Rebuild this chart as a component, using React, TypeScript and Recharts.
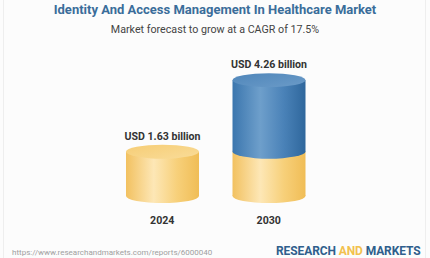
import React from 'react';
import { BarChart, Bar, XAxis, YAxis, LabelList } from 'recharts';

const years = ['2024', '2030'];
const baseValues = [1.63, 1.63];
const growthValues = [0, 2.63];
const totalLabels = ['USD 1.63 billion', 'USD 4.26 billion'];
const title = 'Identity And Access Management In Healthcare Market';
const subtitle = 'Market forecast to grow at a CAGR of 17.5%';
const url = 'https://www.researchandmarkets.com/reports/6000040';

const data = years.map((y, i) => ({
  year: y,
  base: baseValues[i],
  growth: growthValues[i],
  label: totalLabels[i],
}));

const RY = 7;

const GoldShape = (props: any) => {
  const { x, y, width, height, payload } = props;
  const cx = x + width / 2;
  const isTop = payload.growth === 0;
  return (
    <g>
      <ellipse cx={cx} cy={y + height} rx={width / 2} ry={RY} fill="url(#goldBody)" />
      <rect x={x} y={y} width={width} height={height} fill="url(#goldBody)" />
      {isTop && <ellipse cx={cx} cy={y} rx={width / 2} ry={RY} fill="url(#goldTop)" />}
    </g>
  );
};

const BlueShape = (props: any) => {
  const { x, y, width, height } = props;
  if (!height) return <g />;
  const cx = x + width / 2;
  return (
    <g>
      <ellipse cx={cx} cy={y + height} rx={width / 2} ry={RY} fill="url(#blueBody)" />
      <rect x={x} y={y} width={width} height={height} fill="url(#blueBody)" />
      <ellipse cx={cx} cy={y} rx={width / 2} ry={RY} fill="url(#blueTop)" />
    </g>
  );
};

const TotalLabel = (props: any) => {
  const { x, y, width, index } = props;
  return (
    <text
      x={x + width / 2}
      y={y - 12}
      textAnchor="middle"
      fontFamily="Roboto, sans-serif"
      fontWeight={700}
      fontSize={10.6}
      fill="#333333"
    >
      {totalLabels[index]}
    </text>
  );
};

export default function App() {
  return (
    <div
      style={{
        position: 'absolute',
        left: 0,
        top: 0,
        width: 430,
        height: 258,
        overflow: 'hidden',
        background: '#fcfcfc',
        fontFamily: 'Roboto, sans-serif',
      }}
    >
      <div style={{ position: 'absolute', left: 3, top: 0, width: 1, height: 258, background: '#eeeeee' }} />
      <div style={{ position: 'absolute', left: 425, top: 0, width: 1, height: 258, background: '#eeeeee' }} />
      <div
        style={{
          position: 'absolute',
          left: 0,
          top: 2,
          width: 430,
          textAlign: 'center',
          fontSize: 13,
          lineHeight: '16px',
          fontWeight: 700,
          color: '#3a6d9a',
          whiteSpace: 'nowrap',
        }}
      >
        {title}
      </div>
      <div
        style={{
          position: 'absolute',
          left: 0,
          top: 23,
          width: 430,
          textAlign: 'center',
          fontSize: 10.7,
          lineHeight: '14px',
          color: '#444444',
          whiteSpace: 'nowrap',
        }}
      >
        {subtitle}
      </div>
      <div style={{ position: 'absolute', left: 0, top: 0 }}>
        <BarChart
          width={430}
          height={258}
          data={data}
          margin={{ top: 60, right: 108, bottom: 32, left: 109 }}
        >
          <defs>
            <linearGradient id="goldBody" x1="0" y1="0" x2="1" y2="0">
              <stop offset="0%" stopColor="#f2c160" />
              <stop offset="38%" stopColor="#fde7b6" />
              <stop offset="70%" stopColor="#f7d07a" />
              <stop offset="100%" stopColor="#f0bd56" />
            </linearGradient>
            <linearGradient id="goldTop" x1="0" y1="0" x2="1" y2="1">
              <stop offset="0%" stopColor="#f6cd75" />
              <stop offset="100%" stopColor="#f9dc99" />
            </linearGradient>
            <linearGradient id="blueBody" x1="0" y1="0" x2="1" y2="0">
              <stop offset="0%" stopColor="#3b76ae" />
              <stop offset="38%" stopColor="#6e9fcb" />
              <stop offset="70%" stopColor="#4a82b8" />
              <stop offset="100%" stopColor="#2f679c" />
            </linearGradient>
            <linearGradient id="blueTop" x1="0" y1="0" x2="1" y2="1">
              <stop offset="0%" stopColor="#4f86ba" />
              <stop offset="100%" stopColor="#6b9bc8" />
            </linearGradient>
          </defs>
          <XAxis
            dataKey="year"
            axisLine={false}
            tickLine={false}
            tickSize={0}
            tickMargin={20}
            height={30}
            tick={{ fill: '#333333', fontSize: 10.6, fontWeight: 700, fontFamily: 'Roboto, sans-serif' }}
          />
          <YAxis hide domain={[0, 5]} />
          <Bar dataKey="base" stackId="a" barSize={73} shape={<GoldShape />} isAnimationActive={false} />
          <Bar dataKey="growth" stackId="a" barSize={73} shape={<BlueShape />} isAnimationActive={false}>
            <LabelList dataKey="label" content={<TotalLabel />} />
          </Bar>
        </BarChart>
      </div>
      <div
        style={{
          position: 'absolute',
          left: 276,
          top: 244,
          fontSize: 12,
          lineHeight: '14px',
          fontWeight: 700,
          color: '#2f5f8c',
          whiteSpace: 'nowrap',
          letterSpacing: -0.1,
        }}
      >
        RESEARCH <span style={{ color: '#f2c14e' }}>AND</span> MARKETS
      </div>
      <div
        style={{
          position: 'absolute',
          left: 12,
          top: 248,
          fontSize: 8,
          lineHeight: '9px',
          color: '#a0a0a0',
          whiteSpace: 'nowrap',
        }}
      >
        {url}
      </div>
    </div>
  );
}
